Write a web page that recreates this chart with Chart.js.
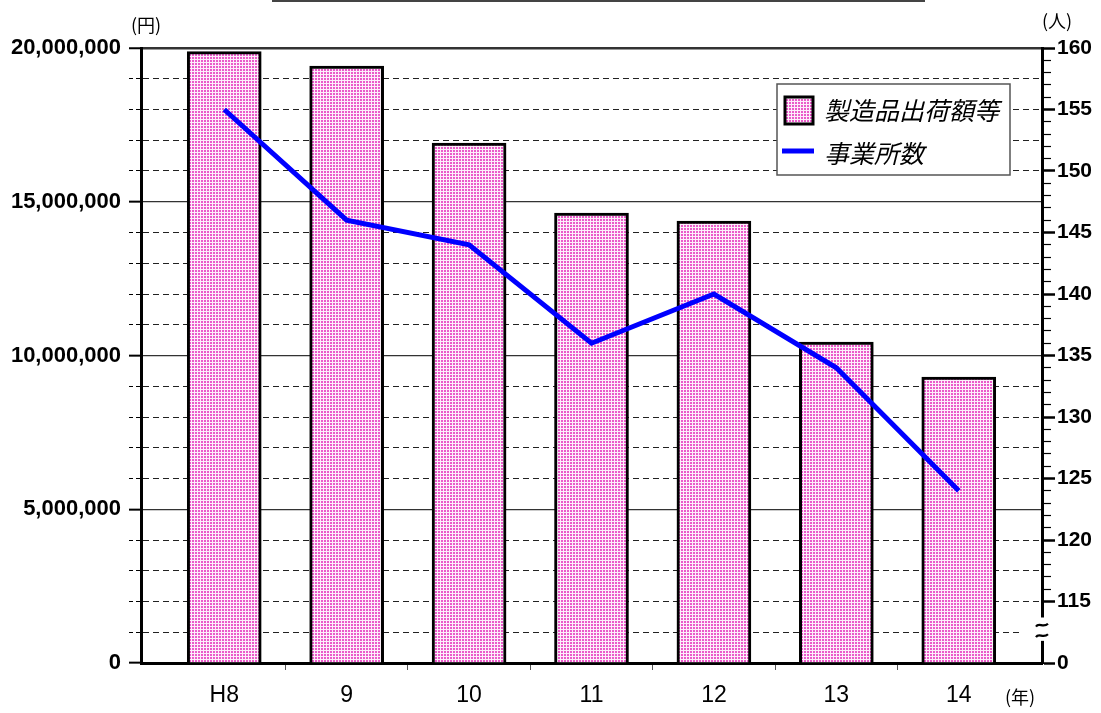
<!DOCTYPE html>
<html><head><meta charset="utf-8">
<script src="https://cdn.jsdelivr.net/npm/chart.js@4"></script>
<style>html,body{margin:0;padding:0;background:#fff}#wrap{width:1101px;height:713px;position:relative}</style>
</head><body><div id="wrap"><canvas id="c" width="1101" height="713"></canvas></div>
<script>
// ---- data ----
const years = ['H8', '9', '10', '11', '12', '13', '14'];
const shipments = [19880000, 19410000, 16910000, 14630000, 14370000, 10440000, 9300000];
const establishments = [155, 146, 144, 136, 140, 134, 124];
const seriesLabels = ['製造品出荷額等', '事業所数'];
const unitLabels = { left: '(円)', right: '(人)', x: '(年)' };

const FONT = "Arial, 'Liberation Sans', sans-serif";
const CJK = "'Noto Sans CJK JP', sans-serif";

const canvas = document.getElementById('c');
const mainCtx = canvas.getContext('2d');

function makePattern() {
  const c = document.createElement('canvas');
  c.width = 3; c.height = 3;
  const g = c.getContext('2d');
  g.fillStyle = '#fdeefa'; g.fillRect(0, 0, 3, 3);
  g.fillStyle = '#ea5bca'; g.fillRect(0, 0, 2, 2);
  return mainCtx.createPattern(c, 'repeat');
}
const pinkPattern = makePattern();

const isMajorL = v => v % 5000000 === 0;
const isMajorR = v => v % 5 === 0;

const extras = {
  id: 'extras',
  afterDraw(chart) {
    const ctx = chart.ctx;
    const ca = chart.chartArea;
    const y1 = chart.scales.y1;
    ctx.save();
    // top decorative line
    ctx.strokeStyle = '#444'; ctx.lineWidth = 2;
    ctx.beginPath(); ctx.moveTo(272, 1); ctx.lineTo(925, 1); ctx.stroke();

    // unit labels
    ctx.fillStyle = '#000';
    ctx.font = '18px ' + CJK;
    ctx.textAlign = 'center'; ctx.textBaseline = 'middle';
    ctx.fillText(unitLabels.left, ca.left + 5, ca.top - 23);
    ctx.fillText(unitLabels.right, ca.right + 15, ca.top - 27);
    ctx.fillText(unitLabels.x, ca.right - 22, ca.bottom + 34);

    // axis break symbol
    const bx = ca.right;
    const yTop = y1.getPixelForValue(113.7), yBot = y1.getPixelForValue(111.8);
    ctx.fillStyle = '#fff';
    ctx.fillRect(bx - 3, yTop, 7, yBot - yTop);
    const yg = y1.getPixelForValue(112.6);
    ctx.fillRect(bx - 22, yg - 3, 20, 6);
    ctx.strokeStyle = '#000'; ctx.lineWidth = 2.2;
    const h = yBot - yTop;
    [yTop + h * 0.35, yTop + h * 0.8].forEach(yy => {
      ctx.beginPath();
      ctx.moveTo(bx - 6, yy + 1);
      ctx.bezierCurveTo(bx - 3, yy - 4, bx + 1, yy + 3, bx + 6, yy - 2);
      ctx.stroke();
    });

    // legend
    const lx = 777, ly = 84, lw = 233, lh = 91;
    ctx.fillStyle = '#fff'; ctx.fillRect(lx, ly, lw, lh);
    ctx.strokeStyle = '#555'; ctx.lineWidth = 1.5; ctx.strokeRect(lx, ly, lw, lh);
    ctx.fillStyle = pinkPattern; ctx.fillRect(785, 97, 28, 27);
    ctx.strokeStyle = '#000'; ctx.lineWidth = 3; ctx.strokeRect(785, 97, 28, 27);
    ctx.strokeStyle = '#0000ff'; ctx.lineWidth = 5;
    ctx.beginPath(); ctx.moveTo(782, 151); ctx.lineTo(814, 151); ctx.stroke();
    ctx.fillStyle = '#000'; ctx.textAlign = 'left'; ctx.textBaseline = 'middle';
    ctx.font = 'italic 25px ' + CJK;
    const barDs = chart.data.datasets.find(d => d.type === 'bar');
    const lineDs = chart.data.datasets.find(d => d.type === 'line');
    ctx.fillText(barDs.label, 824, 110);
    ctx.fillText(lineDs.label, 824, 153);
    ctx.restore();
  }
};

new Chart(canvas, {
  data: {
    datasets: [
      {
        type: 'line', label: seriesLabels[1], yAxisID: 'y1', xAxisID: 'x', order: 0,
        data: years.map((_, i) => ({ x: i, y: establishments[i] })),
        borderColor: '#0000ff', borderWidth: 5, pointRadius: 0, tension: 0, fill: false
      },
      {
        type: 'bar', label: seriesLabels[0], yAxisID: 'y', xAxisID: 'x', order: 1,
        data: years.map((_, i) => ({ x: i, y: shipments[i] })),
        backgroundColor: pinkPattern, borderColor: '#000', borderWidth: 3,
        barThickness: 74
      }
    ]
  },
  options: {
    responsive: false, animation: false, devicePixelRatio: 1,
    layout: { padding: { top: 48, left: 0, right: 0, bottom: 0 } },
    plugins: { legend: { display: false }, tooltip: { enabled: false } },
    scales: {
      x: {
        type: 'linear', position: 'bottom', min: -0.68, max: 6.68, offset: false,
        afterBuildTicks: s => { const t = []; for (let i = 0; i <= 12; i++) t.push({ value: i / 2 }); s.ticks = t; },
        afterFit: s => { s.height = 50; },
        ticks: {
          autoSkip: false, maxRotation: 0, color: '#000', padding: 12,
          font: { family: FONT, size: 23 },
          callback: v => Number.isInteger(v) ? years[v] : ''
        },
        grid: {
          offset: false, drawOnChartArea: false, drawTicks: true, tickLength: 7, tickWidth: 1,
          tickColor: c => (c.tick && !Number.isInteger(c.tick.value)) ? '#555' : 'rgba(0,0,0,0)'
        },
        border: { color: '#000', width: 3 }
      },
      y: {
        type: 'linear', position: 'left', min: 0, max: 20000000,
        afterFit: s => { s.width = 141; },
        ticks: {
          stepSize: 1000000, autoSkip: false, color: '#000', padding: 8,
          font: { family: FONT, size: 22, weight: 'bold' },
          callback: v => isMajorL(v) ? v.toLocaleString('en-US') : ''
        },
        grid: {
          drawTicks: true, tickLength: 12,
          color: c => (c.tick && isMajorL(c.tick.value)) ? '#333' : '#222',
          lineWidth: c => (c.tick && c.tick.value === 20000000) ? 2.5 : ((c.tick && isMajorL(c.tick.value)) ? 1.3 : 1),
          tickColor: '#000',
          tickWidth: c => (c.tick && isMajorL(c.tick.value)) ? 2 : 1,
          tickBorderDash: c => (c.tick && !isMajorL(c.tick.value)) ? [4, 3] : []
        },
        border: {
          color: '#000', width: 3,
          dash: c => (c.tick && !isMajorL(c.tick.value)) ? [6, 4] : []
        }
      },
      y1: {
        type: 'linear', position: 'right', min: 110, max: 160,
        afterFit: s => { s.width = 59; },
        ticks: {
          stepSize: 1, autoSkip: false, color: '#000', padding: 2,
          font: { family: FONT, size: 21, weight: 'bold' },
          callback: v => v === 110 ? '0' : ((isMajorR(v) && v >= 115) ? String(v) : '')
        },
        grid: {
          drawOnChartArea: false, drawTicks: true, tickLength: 13,
          tickColor: c => (c.tick && c.tick.value > 110 && c.tick.value < 115) ? 'rgba(0,0,0,0)' : '#000',
          tickWidth: c => (c.tick && isMajorR(c.tick.value)) ? 2.5 : 1.2,
          tickBorderDash: c => (c.tick && !isMajorR(c.tick.value)) ? [7, 100] : []
        },
        border: { color: '#000', width: 3 }
      }
    }
  },
  plugins: [extras]
});
</script>
</body></html>
